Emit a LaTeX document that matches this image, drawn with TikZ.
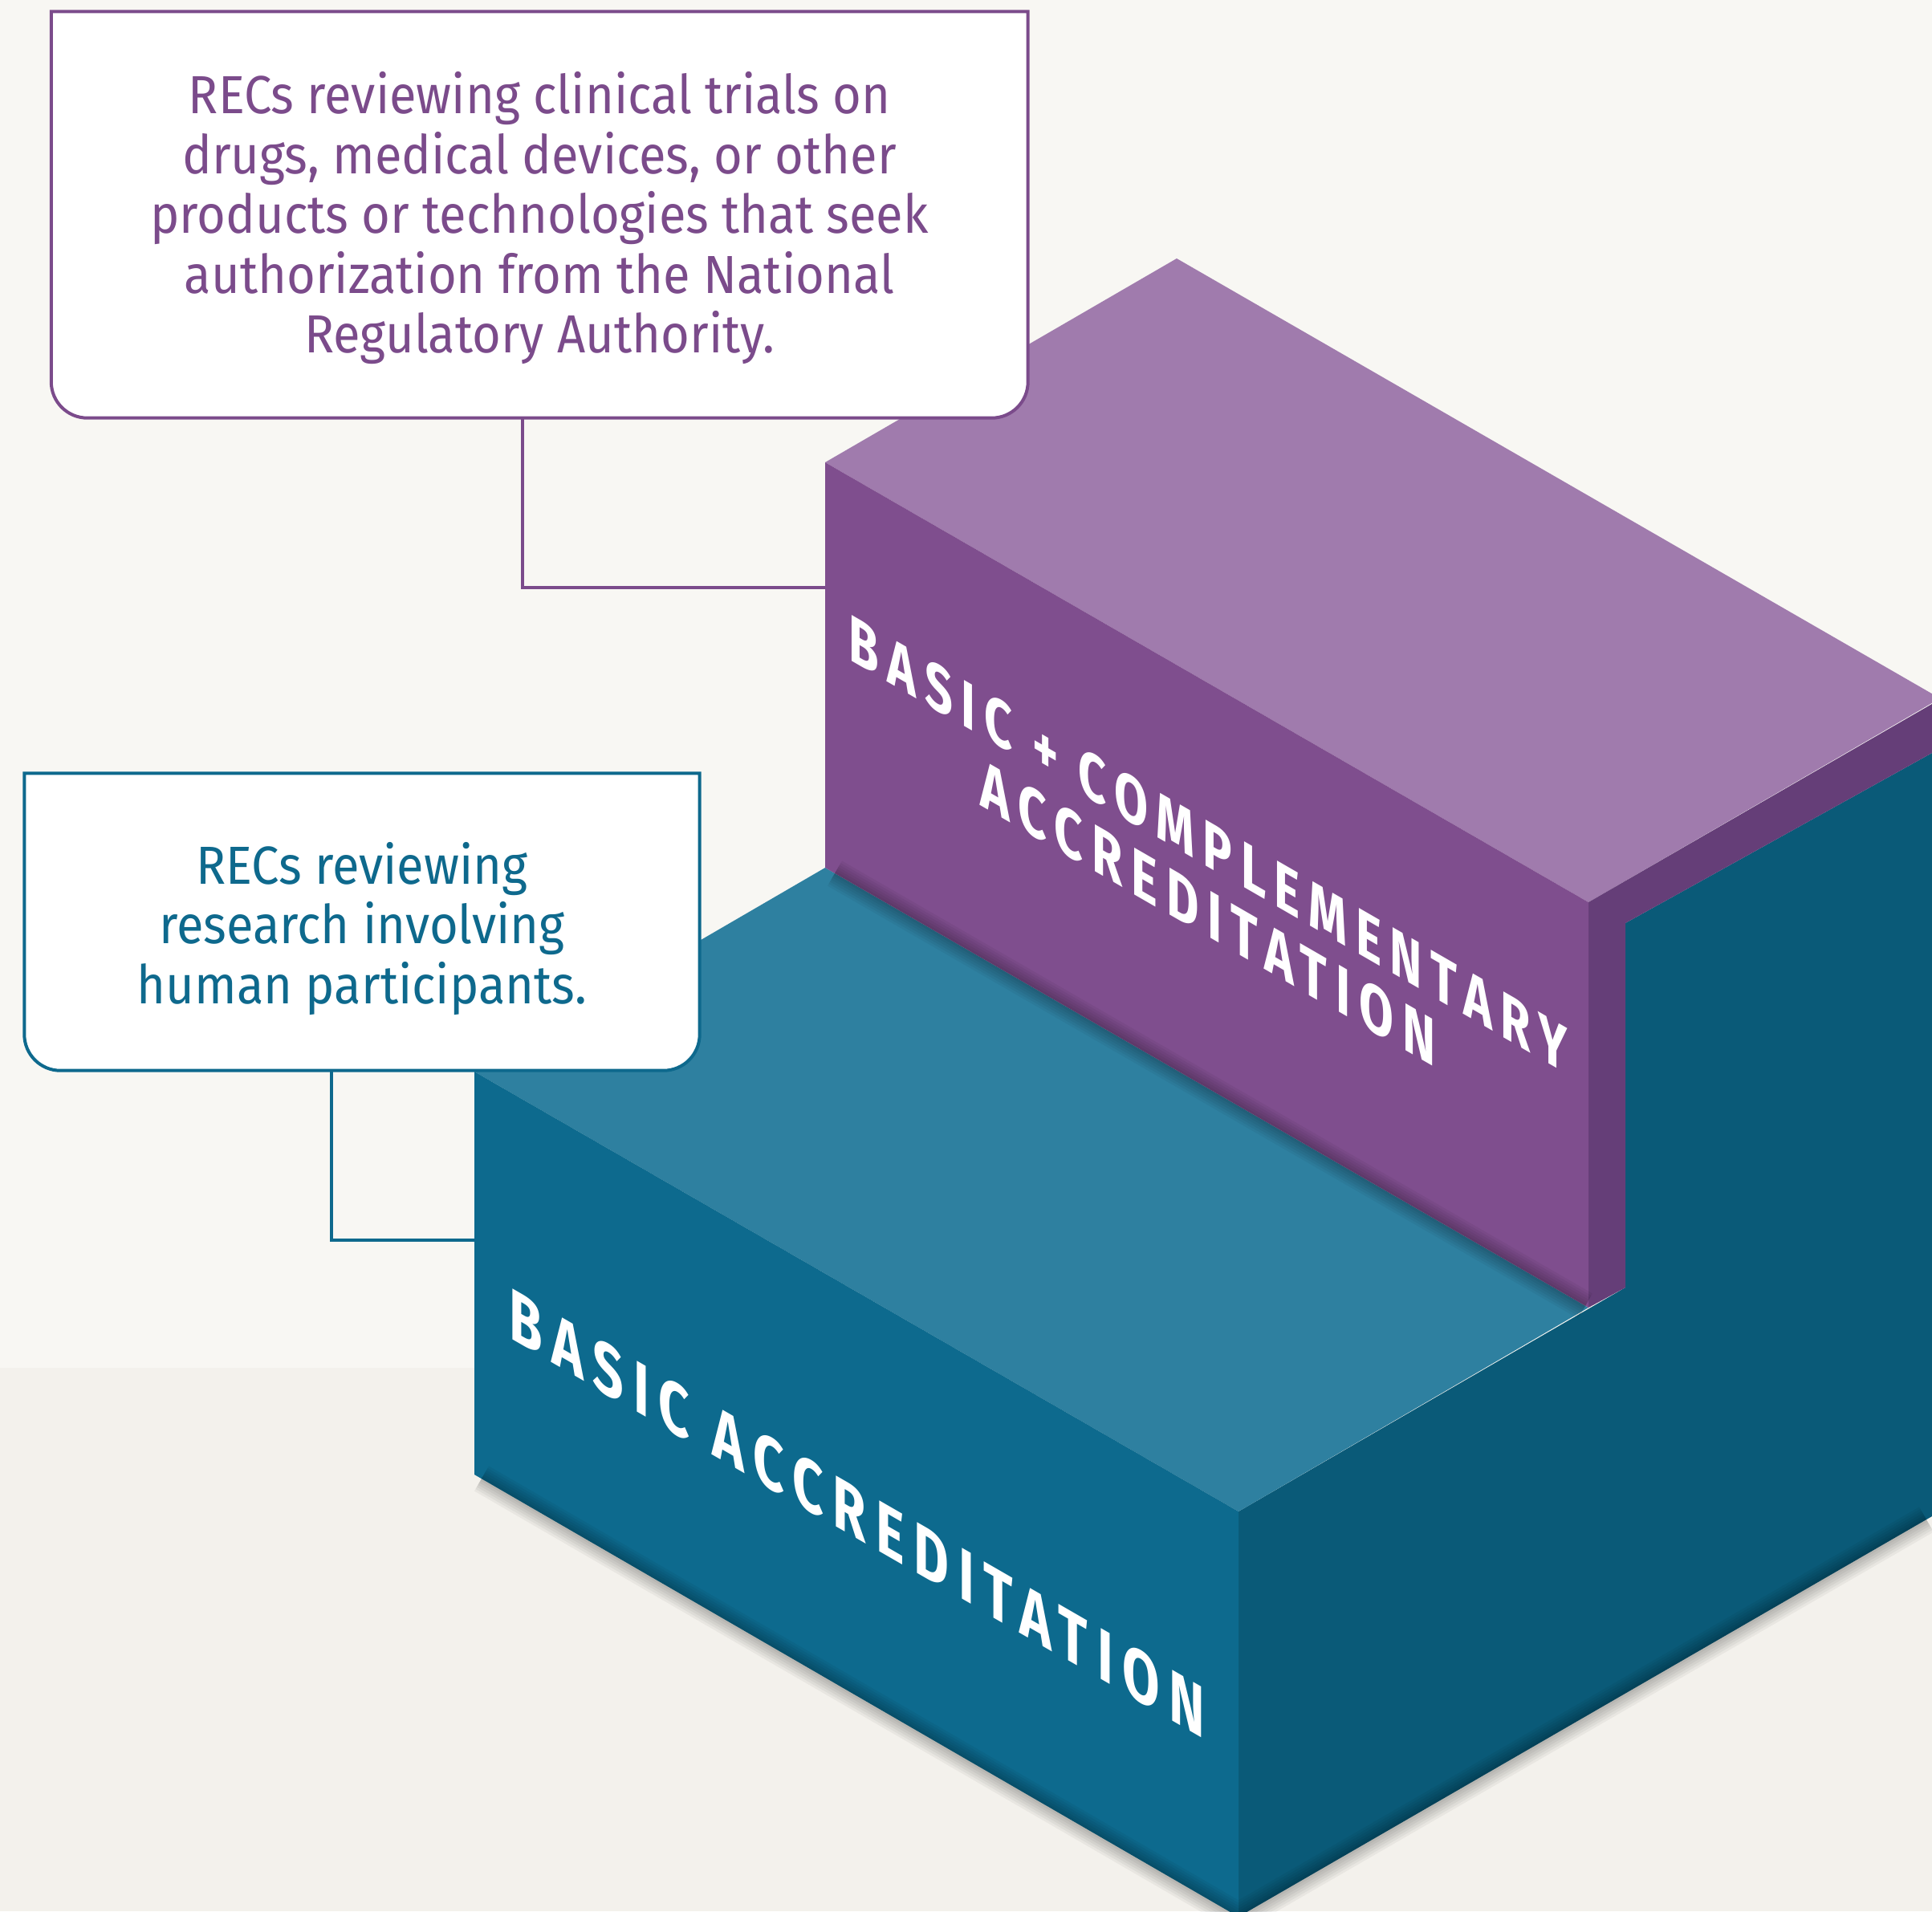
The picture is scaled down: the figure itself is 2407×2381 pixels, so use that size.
\documentclass[tikz,border=0pt]{standalone}
\usepackage{fontspec}
\setmainfont{Fira Sans}
\newfontfamily\notefont{Fira Sans}[FakeStretch=0.92]
\newfontfamily\stepfont{Fira Sans}[FakeStretch=0.85,LetterSpace=15]
\usepackage{tikz}
\usetikzlibrary{calc}
\definecolor{paper}{HTML}{F8F7F3}
\definecolor{floor}{HTML}{F3F1EC}
\definecolor{plumtop}{HTML}{A07BAD}
\definecolor{plumfront}{HTML}{7F4E8E}
\definecolor{plumside}{HTML}{653E78}
\definecolor{plumink}{HTML}{7B4B8B}
\definecolor{tealtop}{HTML}{2E80A0}
\definecolor{tealfront}{HTML}{0D6A8E}
\definecolor{tealside}{HTML}{0A5A78}
\definecolor{tealink}{HTML}{0E698D}
\tikzset{
  notebox/.style={inner sep=0pt,minimum width=#1},
  notetext/.style={font=\notefont\fontsize{19}{21.2}\selectfont,align=center},
  linkline/.style={line width=0.4mm},
  steplabel/.style={font=\stepfont\bfseries\fontsize{#1}{28}\selectfont,text=white,anchor=base,transform shape,inner sep=0pt},
  steplabel/.default=24,
  edgeshade/.style={black,opacity=0.045}
}

\begin{document}
\begin{tikzpicture}[x=0.1mm,y=-0.1mm]
    \useasboundingbox (0,0) rectangle (2407,2381);
    \fill[paper] (0,0) rectangle (2407,1704);
    \fill[floor] (0,1704) rectangle (2407,2381);
    % lower step
    \fill[tealside] (1543,1883) -- (2025,1604) -- (2025,1150) -- (2407,938) -- (2407,1889) -- (1543,2388) -- cycle;
    \fill[tealtop] (591,1335) -- (1028,1081) -- (1979,1629) -- (1543,1883) -- cycle;
    \fill[tealfront] (591,1335) -- (1543,1883) -- (1543,2388) -- (591,1837) -- cycle;
    % upper step
    \fill[plumtop] (1028,576) -- (1466,322) -- (2417,870) -- (1979,1124) -- cycle;
    \fill[plumside] (1979,1124) -- (2407,877) -- (2407,938) -- (2025,1150) -- (2025,1604) -- (1979,1629) -- cycle;
    \fill[plumfront] (1028,576) -- (1979,1124) -- (1979,1629) -- (1028,1081) -- cycle;
    % soft shadows along the bottom edges
    \foreach \w in {0.6,1.2,1.8,2.4,3.0,3.6} {
      \draw[edgeshade,line width=\w mm] (1040,1088) -- (1975,1627);
      \draw[edgeshade,line width=\w mm] (600,1842) -- (1543,2388) -- (2400,1893);
    }
    % step labels
    \begin{scope}[shift={(1505,1080)},cm={0.866,-0.5,0,1,(0,0)}]
      \node[steplabel=23.5] (upperlabel) at (0,0) {BASIC + COMPLEMENTARY};
      \node[steplabel] (upperlabeltwo) at (0,87) {ACCREDITATION};
    \end{scope}
    \begin{scope}[shift={(1068,1917)},cm={0.866,-0.5,0,1,(0,0)}]
      \node[steplabel=26] (lowerlabel) at (0,0) {BASIC ACCREDITATION};
    \end{scope}
    % note for the upper step
    \node[notebox=121.55mm,minimum height=50.5mm] (trialsbox) at (672.25,267.5) {};
    \draw[plumink,linkline,fill=white] (trialsbox.north west) -- (trialsbox.north east)
      -- ([yshift=4.5mm]trialsbox.south east) arc[start angle=0,end angle=-90,radius=4.5mm]
      -- ([xshift=4.5mm]trialsbox.south west) arc[start angle=270,end angle=180,radius=4.5mm] -- cycle;
    \node[notetext,text=plumink] (trialsnote) at (672,272) {RECs reviewing clinical trials on\\drugs, medical devices, or other\\products or technologies that seek\\authorization from the National\\Regulatory Authority.};
    \coordinate (trialsdrop) at (650.5,520);
    \coordinate (trialshook) at (1028,732);
    \draw[plumink,linkline] (trialsdrop) |- (trialshook);
    % note for the lower step
    \node[notebox=84mm,minimum height=36.9mm] (humanbox) at (451,1148.5) {};
    \draw[tealink,linkline,fill=white] (humanbox.north west) -- (humanbox.north east)
      -- ([yshift=4.5mm]humanbox.south east) arc[start angle=0,end angle=-90,radius=4.5mm]
      -- ([xshift=4.5mm]humanbox.south west) arc[start angle=270,end angle=180,radius=4.5mm] -- cycle;
    \node[notetext,text=tealink] (humannote) at (451,1157) {RECs reviewing\\research involving\\human participants.};
    \coordinate (humandrop) at (413,1333);
    \coordinate (humanhook) at (591,1545);
    \draw[tealink,linkline] (humandrop) |- (humanhook);
\end{tikzpicture}
\end{document}
